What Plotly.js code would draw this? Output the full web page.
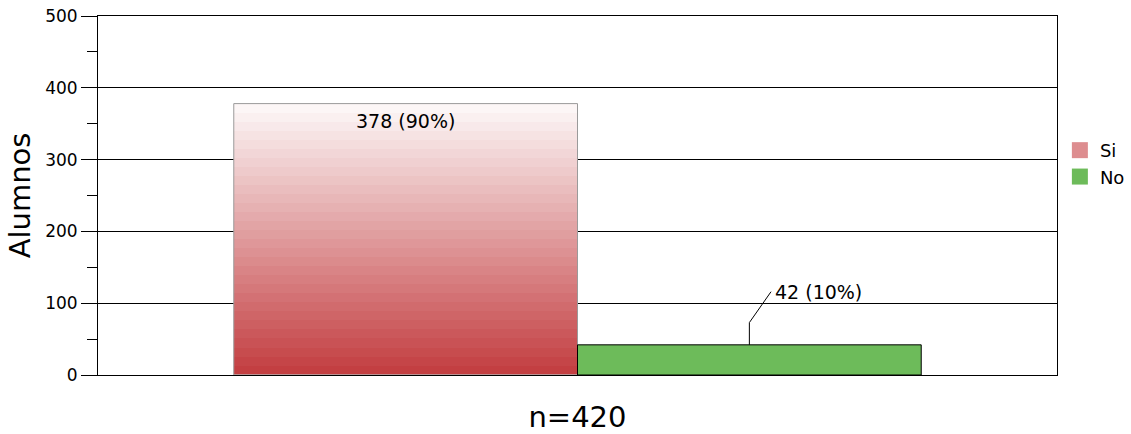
<!DOCTYPE html>
<html>
<head>
<meta charset="utf-8">
<script src="https://cdn.plot.ly/plotly-3.0.1.min.js"></script>
<style>
  html, body { margin: 0; padding: 0; background: #fff; }
  #chart { width: 1131px; height: 434px; }
</style>
</head>
<body>
<div id="chart"></div>
<script>
// Respuestas de los alumnos
const categories = ['Si', 'No'];
const values = [378, 42];
const yTickVals = [0, 100, 200, 300, 400, 500];

const total = values.reduce((a, b) => a + b, 0);
const xPos = categories.map((_, i) => i);
const barWidth = 1;
const font = 'DejaVu Sans, Verdana, sans-serif';

// Vertical shading for the "Si" bar, drawn as banded cells under the bar outline
const bands = 30;
const siVal = values[0];
const gradY = [];
for (let k = 0; k <= bands; k++) gradY.push(siVal * k / bands);
const gradZ = [];
for (let k = 0; k < bands; k++) gradZ.push([k]);

const traces = [
  {
    type: 'heatmap',
    x: [xPos[0] - barWidth / 2, xPos[0] + barWidth / 2],
    y: gradY,
    z: gradZ,
    zsmooth: false,
    colorscale: [[0, '#c33f42'], [1, '#fcf6f6']],
    showscale: false,
    hoverinfo: 'skip'
  },
  {
    type: 'bar',
    name: categories[0],
    x: [xPos[0]],
    y: [values[0]],
    width: barWidth,
    marker: { color: 'rgba(0,0,0,0)', line: { color: '#9a9a9a', width: 1 } },
    showlegend: false
  },
  {
    type: 'bar',
    name: categories[1],
    x: [xPos[1]],
    y: [values[1]],
    width: barWidth,
    marker: { color: '#6dbb5a', line: { color: '#000', width: 1 } },
    showlegend: false
  },
  // legend entries
  {
    type: 'scatter', mode: 'markers', name: categories[0],
    x: [null], y: [null],
    marker: { symbol: 'square', size: 16, color: '#dd8d8f', line: { width: 0 } },
    showlegend: true
  },
  {
    type: 'scatter', mode: 'markers', name: categories[1],
    x: [null], y: [null],
    marker: { symbol: 'square', size: 16, color: '#6dbb5a', line: { width: 0 } },
    showlegend: true
  }
];

const pct = v => Math.round(v / total * 100) + '%';

// leader line for the small bar label
const noX = xPos[1], noY = values[1];
const elbowY = noY + 31;
const labelX = noX + 0.063, labelY = noY + 74;

const layout = {
  width: 1131,
  height: 434,
  margin: { l: 98, r: 74, t: 16, b: 59, autoexpand: false },
  paper_bgcolor: '#fff',
  plot_bgcolor: '#fff',
  font: { family: font, size: 17, color: '#000' },
  bargap: 0,
  showlegend: true,
  legend: {
    x: 1.003, y: 0.677, xanchor: 'left', yanchor: 'top',
    font: { family: font, size: 18, color: '#000' },
    itemsizing: 'trace',
    itemwidth: 30,
    tracegroupgap: 0,
    bgcolor: 'rgba(0,0,0,0)'
  },
  xaxis: {
    range: [-0.895, 1.895],
    showticklabels: false,
    ticks: '',
    showgrid: false,
    zeroline: false,
    showline: true,
    linecolor: '#000',
    linewidth: 1,
    mirror: true,
    title: { text: 'n=420', font: { family: font, size: 29, color: '#000' }, standoff: 32 }
  },
  yaxis: {
    range: [0, 500],
    tickvals: yTickVals,
    ticks: 'outside',
    ticklen: 16,
    tickcolor: '#000',
    tickwidth: 1,
    minor: { dtick: 50, ticks: 'outside', ticklen: 10, tickcolor: '#000', showgrid: false },
    showgrid: true,
    gridcolor: '#000',
    gridwidth: 1,
    zeroline: false,
    showline: true,
    linecolor: '#000',
    linewidth: 1,
    mirror: true,
    tickfont: { family: font, size: 17, color: '#000' },
    title: { text: 'Alumnos', font: { family: font, size: 29, color: '#000' }, standoff: 5 }
  },
  annotations: [
    {
      x: xPos[0], y: values[0], xref: 'x', yref: 'y',
      text: values[0] + ' (' + pct(values[0]) + ')',
      showarrow: false, yanchor: 'top', yshift: -4,
      font: { family: font, size: 19, color: '#000' }
    },
    {
      x: labelX, y: labelY, xref: 'x', yref: 'y',
      text: values[1] + ' (' + pct(values[1]) + ')',
      showarrow: false, xanchor: 'left', yanchor: 'middle', xshift: 2,
      font: { family: font, size: 19, color: '#000' }
    }
  ],
  shapes: [
    {
      type: 'path', xref: 'x', yref: 'y',
      path: 'M ' + noX + ',' + noY + ' L ' + noX + ',' + elbowY + ' L ' + labelX + ',' + labelY,
      line: { color: '#000', width: 1 }
    }
  ]
};

Plotly.newPlot('chart', traces, layout, { displayModeBar: false, staticPlot: true });
</script>
</body>
</html>
